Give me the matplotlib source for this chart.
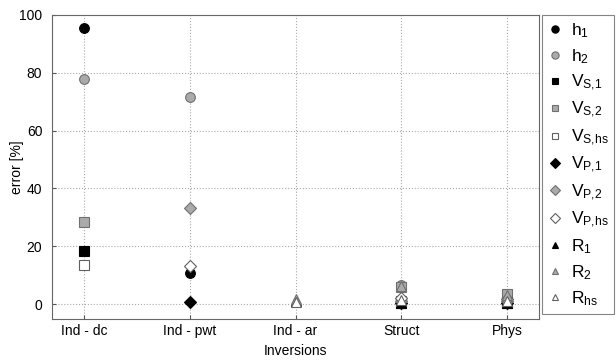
import numpy as np
import matplotlib
matplotlib.use("Agg")
import matplotlib.pyplot as plt

plt.rcParams['font.family'] = ['Liberation Sans', 'DejaVu Sans']
plt.rcParams['mathtext.fontset'] = 'custom'
plt.rcParams['mathtext.rm'] = 'Liberation Sans'
plt.rcParams['mathtext.it'] = 'Liberation Sans'

categories = ['Ind - dc', 'Ind - pwt', 'Ind - ar', 'Struct', 'Phys']
nan = np.nan
h1   = [95.6, 10.9, nan, 0.2, 0.3]
h2   = [77.9, 71.6, nan, 6.6, 0.5]
VS1  = [18.3, nan, nan, 0.3, 0.4]
VS2  = [28.4, nan, nan, 6.0, 3.6]
VShs = [13.5, nan, nan, 1.0, 0.8]
VP1  = [nan, 0.6, nan, 0.2, 0.3]
VP2  = [nan, 33.1, nan, 1.0, 1.0]
VPhs = [nan, 13.0, nan, 2.2, 1.6]
R1   = [nan, nan, 1.2, 0.4, 0.4]
R2   = [nan, nan, 1.6, 6.3, 3.0]
Rhs  = [nan, nan, 0.8, 1.5, 0.9]

labels = [r'$\mathregular{h_1}$', r'$\mathregular{h_2}$', r'$\mathregular{V_{S{,}1}}$',
          r'$\mathregular{V_{S{,}2}}$', r'$\mathregular{V_{S{,}hs}}$', r'$\mathregular{V_{P{,}1}}$',
          r'$\mathregular{V_{P{,}2}}$', r'$\mathregular{V_{P{,}hs}}$', r'$\mathregular{R_1}$',
          r'$\mathregular{R_2}$', r'$\mathregular{R_{hs}}$']
series = [h1, h2, VS1, VS2, VShs, VP1, VP2, VPhs, R1, R2, Rhs]

black = dict(mfc='black', mec='black')
grey = dict(mfc='#aaaaaa', mec='#707070')
white = dict(mfc='white', mec='#606060')
styles = [('o', black, 7), ('o', grey, 7), ('s', black, 6.5), ('s', grey, 6.5), ('s', white, 6.5),
          ('D', black, 6.5), ('D', grey, 6.5), ('D', white, 6.5),
          ('^', black, 6.5), ('^', grey, 6.5), ('^', white, 6.5)]

fig = plt.figure(figsize=(6.16, 3.62), dpi=100)
ax = fig.add_axes([52/616, 1 - 318.5/362, (539-52)/616, (318.5-15)/362])

x = np.arange(1, len(categories) + 1)
handles = []
for vals, lab, (m, st, ms) in zip(series, labels, styles):
    h, = ax.plot(x, vals, linestyle='none', marker=m, markersize=ms, markeredgewidth=0.8,
                 label=lab, **st)
    handles.append(h)

ax.set_xlim(0.7, 5.3)
ax.set_ylim(-5, 100)
ax.set_xticks(x)
ax.set_xticklabels(categories, fontsize=10)
ax.set_yticks([0, 20, 40, 60, 80, 100])
ax.tick_params(axis='both', direction='in', length=3, labelsize=10, color='#555555')
ax.tick_params(axis='x', pad=4)
ax.tick_params(axis='y', pad=7)
ax.set_xlabel('Inversions', fontsize=10, labelpad=4)
ax.set_ylabel('error [%]', fontsize=10)
ax.yaxis.set_label_coords(-0.057, 0.5)
ax.grid(True, linestyle=':', color='#aaaaaa', linewidth=0.8)
for s in ax.spines.values():
    s.set_color('#666666')

leg = fig.legend(handles=handles, loc='upper left', bbox_to_anchor=(542/616, 1 - 15/362),
                 frameon=True, fancybox=False, edgecolor='#666666', fontsize=12.5,
                 handlelength=0.8, handletextpad=0.5, labelspacing=0.41, borderpad=0.35,
                 markerscale=0.75, borderaxespad=0)
leg.get_frame().set_linewidth(0.8)

fig.savefig('out.png', dpi=100)
